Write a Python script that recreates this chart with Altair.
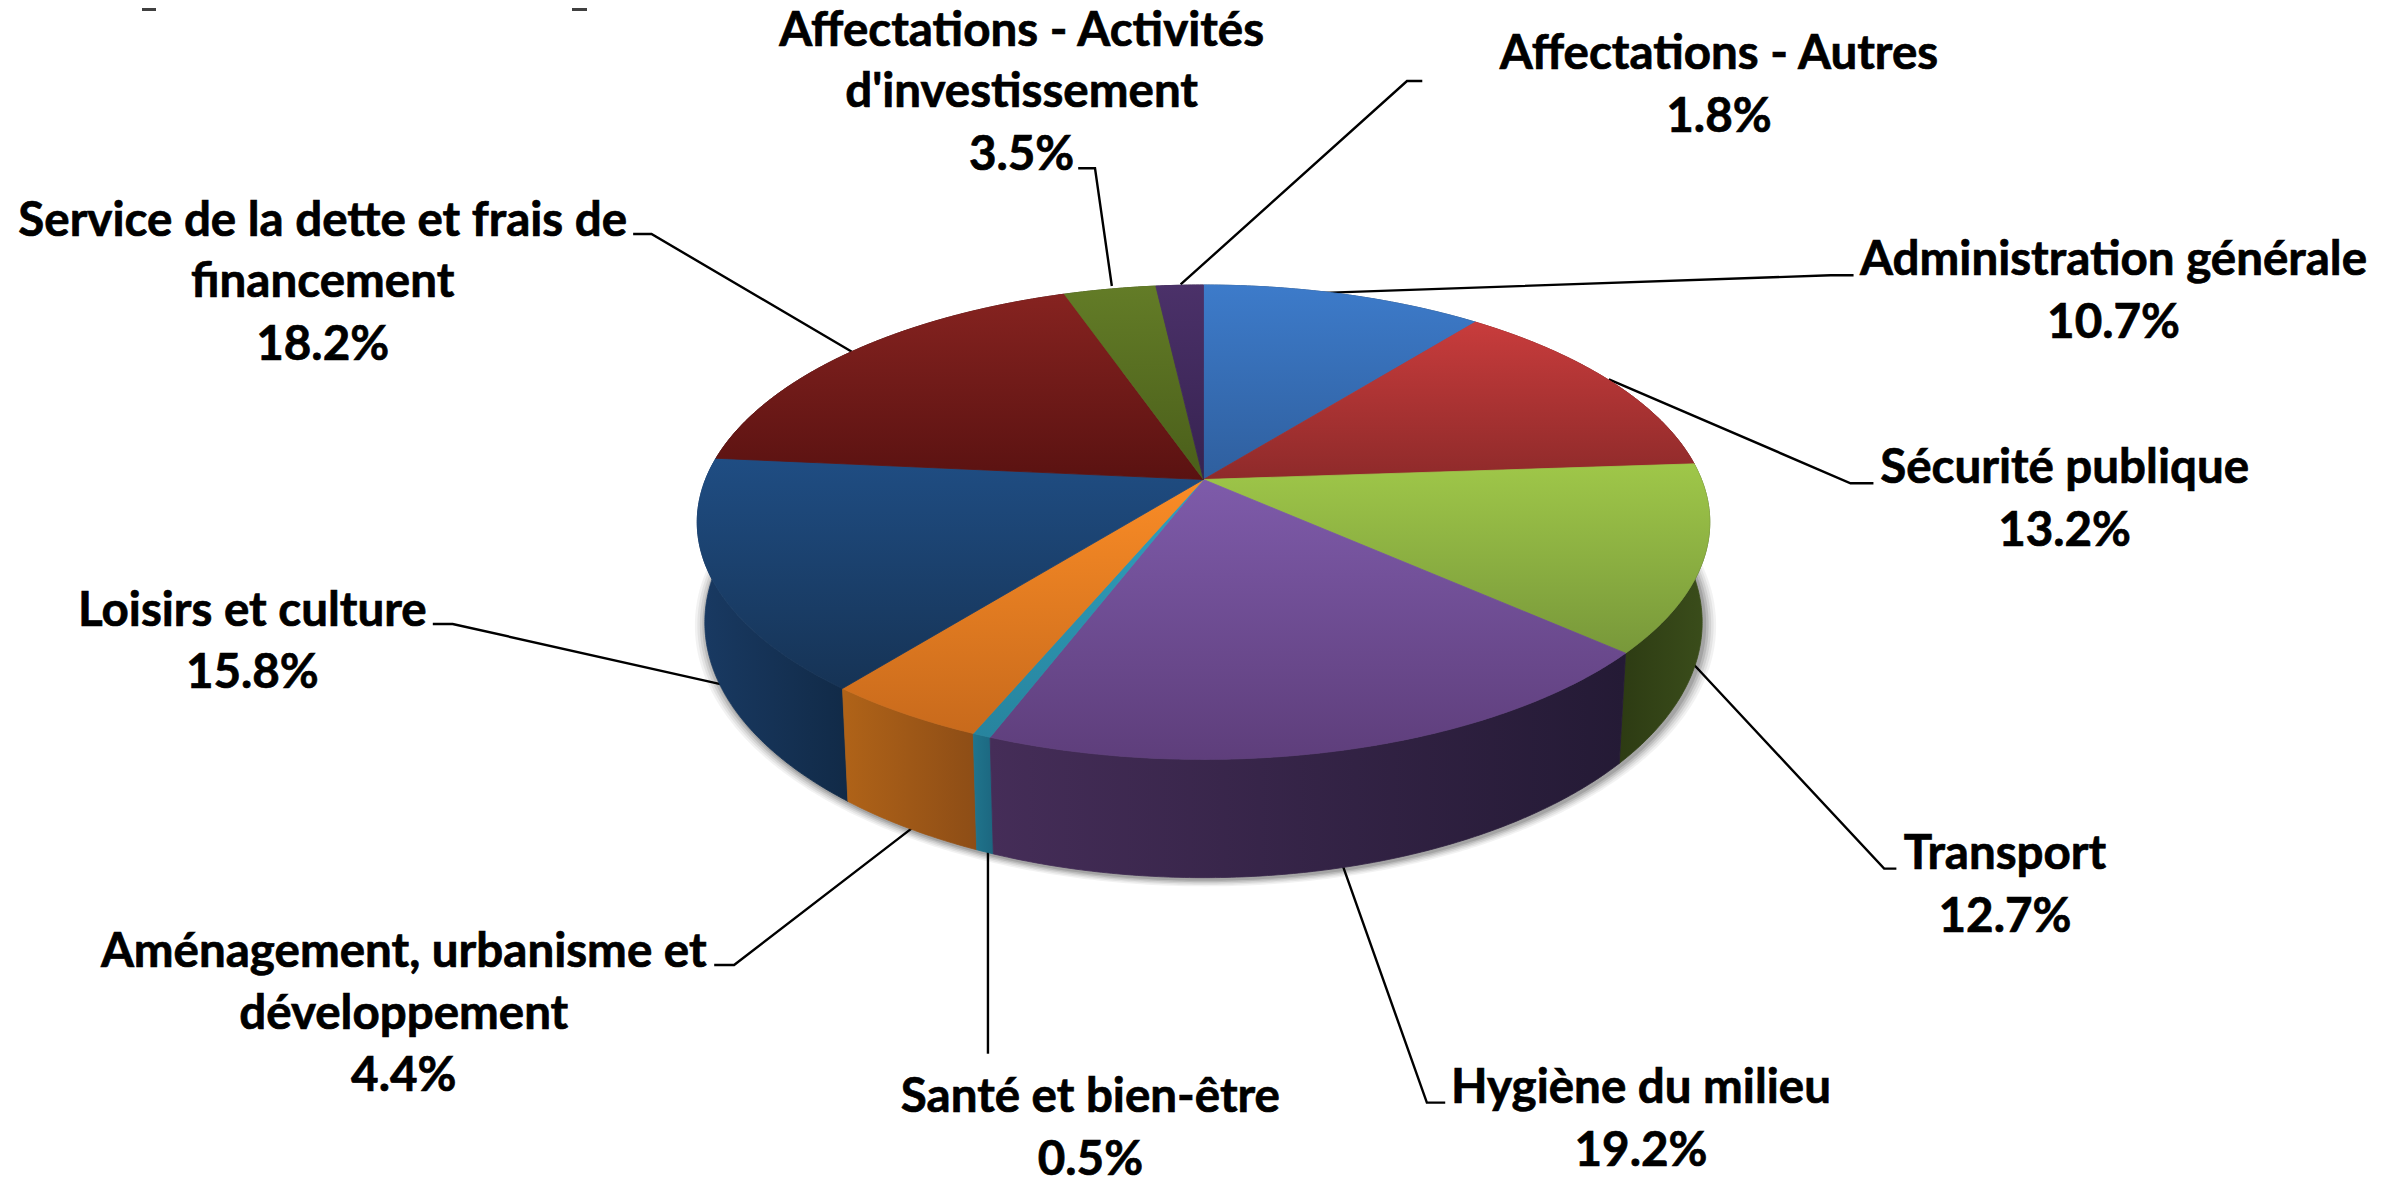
import math
import altair as alt
import pandas as pd

# ---- values
CATEGORIES = ["Administration générale", "Sécurité publique", "Transport", "Hygiène du milieu",
              "Santé et bien-être", "Aménagement, urbanisme et développement", "Loisirs et culture",
              "Service de la dette et frais de financement", "Affectations - Activités d'investissement",
              "Affectations - Autres"]
SHARES = [10.7, 13.2, 12.7, 19.2, 0.5, 4.4, 15.8, 18.2, 3.5, 1.8]

TOP_COLORS = [("#3D7BCA", "#2F5F9E"), ("#C83C3C", "#8E2A2A"), ("#9FC749", "#78983A"),
              ("#7E5BAA", "#5E3E7B"), ("#30A0BE", "#27849E"), ("#FA8C26", "#C86A1C"),
              ("#1F4D83", "#163355"), ("#862320", "#5A1211"), ("#637C27", "#4A5E1A"),
              ("#4B3169", "#362250")]
WALL_COLORS = [("#28486F", "#28486F"), ("#6F2020", "#6F2020"), ("#2D3B13", "#3B4E1B"),
               ("#452D58", "#241A35"), ("#20748C", "#1C6780"), ("#B06318", "#8D4D16"),
               ("#193A63", "#112A47"), ("#4A1010", "#4A1010"), ("#3A4A14", "#3A4A14"),
               ("#2A1C3C", "#2A1C3C")]

# label lines: text, centre x, centre y (in shrunk picture units)
LABEL_TEXT = ["Affectations - Activités", "d'investissement", "3.5%",
              "Affectations - Autres", "1.8%",
              "Administration générale", "10.7%",
              "Sécurité publique", "13.2%",
              "Transport", "12.7%",
              "Hygiène du milieu", "19.2%",
              "Santé et bien-être", "0.5%",
              "Aménagement, urbanisme et", "développement", "4.4%",
              "Loisirs et culture", "15.8%",
              "Service de la dette et frais de", "financement", "18.2%"]
LABEL_X = [668, 668, 668, 1124, 1124, 1382, 1382, 1350, 1350, 1311, 1311, 1073, 1073,
           713, 713, 264, 264, 264, 165, 165, 211, 211, 211]
LABEL_Y = [20, 60, 101, 35, 76, 170, 211, 306, 347, 558, 599, 711, 752,
           717, 758, 622, 663, 703, 399, 440, 144, 184, 225]

LEADERS = [[(851, 192), (1197, 180), (1212, 180)],
           [(1052, 248), (1210, 316), (1225, 316)],
           [(1108, 435), (1232, 568), (1240, 568)],
           [(878, 566), (933, 721), (945, 721)],
           [(646, 557), (646, 689)],
           [(597, 541), (480, 631), (467, 631)],
           [(474, 448), (296, 408), (283, 408)],
           [(557, 230), (426, 153), (414, 153)],
           [(727, 187), (716, 110), (705, 110)],
           [(772, 186), (920, 53), (930, 53)]]

S = 2398 / 1568
# ---- pie perspective geometry
CX, CY, A, B, P, H, XSHRINK = 1203.5, 479.5, 498.0, 229.5, 0.18, 97.0, 0.015

WIDTH, HEIGHT = 2382, 1169
X = dict(scale=alt.Scale(domain=[8, 8 + WIDTH], nice=False, zero=False), axis=None)
Y = dict(scale=alt.Scale(domain=[8 + HEIGHT, 8], nice=False, zero=False), axis=None)


def project(deg, depth=0.0, grow=0.0, dx=0.0, dy=0.0):
    u, v = math.sin(math.radians(deg)), -math.cos(math.radians(deg))
    w = 1 - P * v
    px = A * u / w * (1 - XSHRINK * depth) * (1 + grow)
    py = B * v / w * (1 + grow) + depth * H / w
    return CX + px + dx, CY + py + dy


def arc(a0, a1, **kw):
    n = max(2, int(abs(a1 - a0) * 2))
    return [project(a0 + (a1 - a0) * i / n, **kw) for i in range(n + 1)]


def polygon(points, fill, stroke=None, opacity=None):
    pts = list(points) + [points[0]]
    df = pd.DataFrame({"x": [p[0] for p in pts], "y": [p[1] for p in pts], "i": range(len(pts))})
    kw = dict(fill=fill, stroke=stroke if stroke is not None else fill, strokeWidth=0.8)
    if opacity is not None:
        kw.update(opacity=opacity, strokeWidth=0)
    return alt.Chart(df).mark_line(**kw).encode(
        x=alt.X("x:Q", **X), y=alt.Y("y:Q", **Y), order="i:Q")


def vgrad(c0, c1):
    return alt.Gradient(gradient="linear", x1=0, y1=0, x2=0, y2=1,
                        stops=[alt.GradientStop(color=c0, offset=0), alt.GradientStop(color=c1, offset=1)])


def hgrad(c0, c1):
    return alt.Gradient(gradient="linear", x1=0, y1=0, x2=1, y2=0,
                        stops=[alt.GradientStop(color=c0, offset=0), alt.GradientStop(color=c1, offset=1)])


layers = []

# remains of the cut-off heading at the top of the picture
stubs = pd.DataFrame({"x": [142, 572], "x2": [156, 587], "y": [8, 8], "y2": [11, 11]})
layers.append(alt.Chart(stubs).mark_rect(color="#404040").encode(
    x=alt.X("x:Q", **X), x2="x2:Q", y=alt.Y("y:Q", **Y), y2="y2:Q"))

# leader lines
rows = []
for k, line in enumerate(LEADERS):
    for i, (x, y) in enumerate(line):
        rows.append({"x": x * S, "y": y * S, "k": k, "i": i})
layers.append(alt.Chart(pd.DataFrame(rows)).mark_line(color="black", strokeWidth=2.4).encode(
    x=alt.X("x:Q", **X), y=alt.Y("y:Q", **Y), detail="k:N", order="i:Q"))

# soft shadow under the pie
for grow, op in [(0.024, 0.05), (0.019, 0.06), (0.014, 0.08), (0.009, 0.10), (0.004, 0.12)]:
    layers.append(polygon(arc(0, 360, depth=1.0, grow=grow, dx=2, dy=2), "black", opacity=op))

# slice angles
angles = [0.0]
for s in SHARES:
    angles.append(angles[-1] + s / sum(SHARES) * 360)

# walls, back to front
order = sorted(range(len(SHARES)), key=lambda k: project((angles[k] + angles[k + 1]) / 2)[1])
for k in order:
    top = arc(angles[k], angles[k + 1])
    bottom = arc(angles[k + 1], angles[k], depth=1.0)
    g = hgrad(*WALL_COLORS[k])
    layers.append(polygon(top + bottom, g))

# tops
for k in range(len(SHARES)):
    g = vgrad(*TOP_COLORS[k])
    layers.append(polygon([(CX, CY)] + arc(angles[k], angles[k + 1]), g))

# text
labels = pd.DataFrame({"t": LABEL_TEXT, "x": [v * S for v in LABEL_X], "y": [v * S + 1.5 for v in LABEL_Y]})
layers.append(alt.Chart(labels).mark_text(font="Lato", fontWeight="bold", fontSize=47.5, color="black",
                                          align="center", baseline="middle", stroke="black", strokeWidth=0.7).encode(
    x=alt.X("x:Q", **X), y=alt.Y("y:Q", **Y), text="t:N"))

chart = alt.layer(*layers).properties(
    width=WIDTH, height=HEIGHT, padding=0, background="white",
    autosize=alt.AutoSizeParams(type="none")
).configure_view(stroke=None)

chart.save("out.html", embed_options={"renderer": "svg", "actions": False})
